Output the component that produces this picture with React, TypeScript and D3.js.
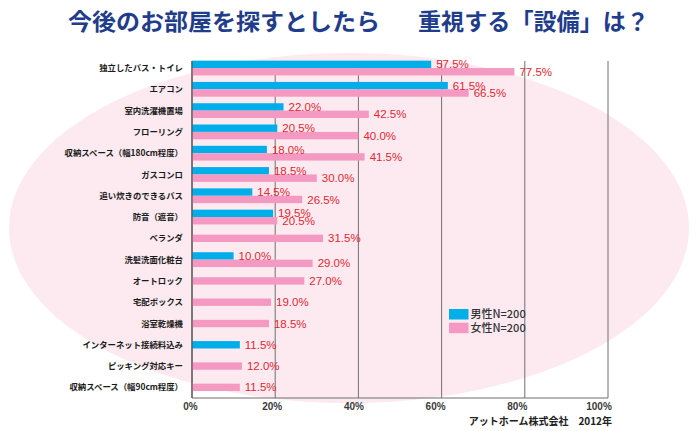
import React from "react";
import * as d3 from "d3";

const titleParts = ["今後のお部屋を探すとしたら", "重視する「設備」は？"];
const categories = [
  "独立したバス・トイレ",
  "エアコン",
  "室内洗濯機置場",
  "フローリング",
  "収納スペース（幅180cm程度）",
  "ガスコンロ",
  "追い炊きのできるバス",
  "防音（遮音）",
  "ベランダ",
  "洗髪洗面化粧台",
  "オートロック",
  "宅配ボックス",
  "浴室乾燥機",
  "インターネット接続料込み",
  "ピッキング対応キー",
  "収納スペース（幅90cm程度）",
];
const maleValues: (number | null)[] = [57.5, 61.5, 22.0, 20.5, 18.0, 18.5, 14.5, 19.5, null, 10.0, null, null, null, 11.5, null, null];
const femaleValues: (number | null)[] = [77.5, 66.5, 42.5, 40.0, 41.5, 30.0, 26.5, 20.5, 31.5, 29.0, 27.0, 19.0, 18.5, null, 12.0, 11.5];
const xTicks = [0, 20, 40, 60, 80, 100];
const seriesNames = ["男性N=200", "女性N=200"];
const sourceText = "アットホーム株式会社　2012年";

const BLUE = "#00afe9";
const PINK = "#f49ac2";
const RED = "#e3262f";
const GRID = "#6f6f6f";
const JP = "'Noto Sans CJK JP', 'Noto Sans', sans-serif";
const LAT = "'Liberation Sans', Arial, sans-serif";

export default function App() {
  const W = 700, H = 431;
  const x = d3.scaleLinear().domain([0, 100]).range([192, 608]);
  const xLabel = d3.scaleLinear().domain([0, 100]).range([190.5, 599]);
  const y = d3.scaleBand<string>().domain(categories).range([57.4, 398]);
  const top = 61, bottom = 398;
  const bh = 7.4;
  const fmt = (v: number) => d3.format(".1f")(v) + "%";

  const bars: any[] = [];
  categories.forEach((c, i) => {
    const m = maleValues[i], f = femaleValues[i];
    const cy = (y(c) as number) + y.bandwidth() / 2;
    if (m != null && f != null) {
      bars.push({ v: m, y: cy - bh, color: BLUE, key: "m" + i });
      bars.push({ v: f, y: cy, color: PINK, key: "f" + i });
    } else if (m != null) {
      bars.push({ v: m, y: cy - bh / 2, color: BLUE, key: "m" + i });
    } else if (f != null) {
      bars.push({ v: f, y: cy - bh / 2, color: PINK, key: "f" + i });
    }
  });

  return (
    <svg width={W} height={H} style={{ position: "absolute", left: 0, top: 0, background: "#fff" }}>
      <ellipse cx={349} cy={228} rx={340} ry={175} fill="#fdeaf1" />
      <text x={68} y={30} fontFamily={JP} fontWeight={700} fontSize={23} fill="#1f3d8b" textLength={312} lengthAdjust="spacingAndGlyphs">{titleParts[0]}</text>
      <text x={418} y={30} fontFamily={JP} fontWeight={700} fontSize={23} fill="#1f3d8b" textLength={231} lengthAdjust="spacingAndGlyphs">{titleParts[1]}</text>

      {xTicks.map((t) => (
        <line key={"g" + t} x1={x(t)} x2={x(t)} y1={top} y2={bottom} stroke={GRID} strokeWidth={1} />
      ))}
      <line x1={x(0)} x2={x(100)} y1={bottom} y2={bottom} stroke={GRID} strokeWidth={1} />

      {bars.map((b) => (
        <rect key={b.key} x={x(0)} y={b.y} width={x(b.v) - x(0)} height={bh} fill={b.color} />
      ))}
      <line x1={x(0)} x2={x(0)} y1={top} y2={bottom} stroke="#555" strokeWidth={1.2} />

      {bars.map((b) => (
        <text key={"t" + b.key} x={x(b.v) + 5} y={b.y + bh / 2} dy="0.36em" fontFamily={LAT} fontSize={11.5} fill={RED}>{fmt(b.v)}</text>
      ))}

      {categories.map((c) => (
        <text key={c} x={183} y={(y(c) as number) + y.bandwidth() / 2} dy="0.36em" textAnchor="end" fontFamily={JP} fontWeight={700} fontSize={8.4} fill="#1a1a1a">{c}</text>
      ))}

      {xTicks.map((t) => (
        <text key={"l" + t} x={xLabel(t)} y={410} textAnchor="middle" fontFamily={LAT} fontWeight={700} fontSize={10} fill="#3a3a3a">{t + "%"}</text>
      ))}

      <text x={612} y={424.5} textAnchor="end" fontFamily={JP} fontWeight={700} fontSize={10} fill="#222">{sourceText}</text>

      {seriesNames.map((s, i) => (
        <g key={s} transform={`translate(449, ${309 + i * 13.7})`}>
          <rect x={0} y={0} width={19.5} height={10.5} fill={i === 0 ? BLUE : PINK} />
          <text x={21.5} y={5.3} dy="0.36em" fontFamily={JP} fontSize={11} fontWeight={500} fill="#333">{s}</text>
        </g>
      ))}
    </svg>
  );
}
